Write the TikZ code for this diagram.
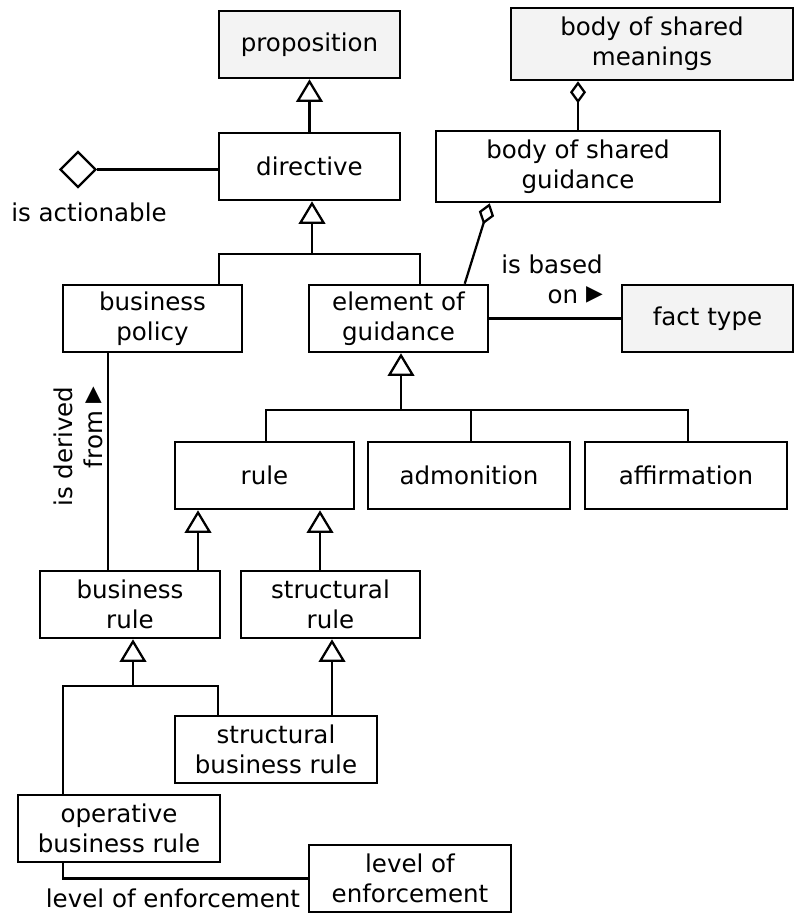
\documentclass[tikz,border=0pt]{standalone}
\usepackage{fontspec}
\setmainfont{DejaVu Sans}
\usetikzlibrary{arrows.meta,shapes.geometric,calc}
\definecolor{shade}{RGB}{243,243,243}
\newcommand{\rdir}{\smash{\fontsize{25}{25}\selectfont ▸}}

\begin{document}
\begin{tikzpicture}[x=0.75pt,y=-0.75pt,
  every node/.style={font=\fontsize{18.4}{22.5}\selectfont, inner sep=0pt},
  cls/.style 2 args={draw, line width=1.9pt, align=center, fill=white,
    minimum width=#1*0.75pt, minimum height=#2*0.75pt},
  ext/.style={fill=shade},
  link/.style={line width=1.7pt},
  gen/.style={link, -{Triangle[open, width=20pt, length=17pt]}},
  agg/.style={link, -{Diamond[open, width=12pt, length=16.5pt]}},
]
\fill[white] (0,0) rectangle (794,913);
\useasboundingbox (0,0) rectangle (794,913);

% classes
\node[cls={181}{67}, ext] (prop) at (309.5,44.5) {proposition};
\node[cls={181}{67}] (dir) at (309.5,166.5) {directive};
\node[cls={282}{72}, ext] (bsm) at (652,44) {body of shared\\meanings};
\node[cls={284}{71}] (bsg) at (578,166.5) {body of shared\\guidance};
\node[cls={179}{67}] (bp) at (152.5,318.5) {business\\policy};
\node[cls={179}{67}] (eog) at (398.5,318.5) {element of\\guidance};
\node[cls={171}{67}, ext] (ft) at (707.5,318.5) {fact type};
\node[cls={179}{67}] (rule) at (264.5,475.5) {rule};
\node[cls={202}{67}] (adm) at (469,475.5) {admonition};
\node[cls={202}{67}] (aff) at (686,475.5) {affirmation};
\node[cls={180}{67}] (br) at (130,604.5) {business\\rule};
\node[cls={179}{67}] (sr) at (330.5,604.5) {structural\\rule};
\node[cls={202}{67}] (sbr) at (276,749.5) {structural\\business rule};
\node[cls={202}{67}] (obr) at (119,828.5) {operative\\business rule};
\node[cls={202}{67}] (loe) at (410,878.5) {level of\\enforcement};

% unary fact on directive
\node[diamond, draw, line width=1.7pt, fill=white, inner sep=0pt,
  minimum width=36*0.75pt, minimum height=36*0.75pt] (act) at (78,169.5) {};
\node (actlbl) at (89,212) {is actionable};
\draw[link] (act.east) -- (act.east -| dir.west);

% directive is a proposition
\draw[gen] (dir.north) -- (prop.south);

% directive specialisations
\coordinate (d0) at (312,254);
\coordinate (d1) at (219,254);
\coordinate (d2) at (420,254);
\draw[gen] (d0) -- (d0 |- dir.south);
\draw[link] (bp.north -| d1) -- (d1) -- (d2) -- (eog.north -| d2);

% aggregations
\draw[agg] (bsg.north) -- (bsg.north |- bsm.south);
\draw[agg] ($(eog.north west)+(157,0)$) -- ($(bsg.south west)+(55,0)$);

% is based on
\draw[link] (eog.east) -- (ft.west);
\node[align=right] (basedlbl) at (552,279) {is based\\on \rdir};

% element of guidance specialisations
\coordinate (e0) at (401,410);
\coordinate (e1) at (266,410);
\coordinate (e2) at (471,410);
\coordinate (e3) at (688,410);
\draw[gen] (e0) -- (e0 |- eog.south);
\draw[link] (rule.north -| e1) -- (e1) -- (e3) -- (aff.north -| e3);
\draw[link] (e2) -- (adm.north -| e2);

% rule specialisations
\coordinate (xa) at (198,540);
\coordinate (xb) at (320,540);
\draw[gen] (xa |- br.north) -- (xa |- rule.south);
\draw[gen] (xb |- sr.north) -- (xb |- rule.south);

% business rule specialisations
\coordinate (m0) at (133,686);
\coordinate (m1) at (63,686);
\coordinate (m2) at (218,686);
\draw[gen] (m0) -- (m0 |- br.south);
\draw[link] (obr.north -| m1) -- (m1) -- (m2) -- (sbr.north -| m2);
\coordinate (xc) at (332,690);
\draw[gen] (xc |- sbr.north) -- (xc |- sr.south);

% is derived from
\coordinate (xd) at (108,450);
\draw[link] (xd |- bp.south) -- (xd |- br.north);
\node[rotate=90, align=right] (derlbl) at (78.5,446.5) {is derived\\from \rdir};

% level of enforcement
\draw[link] (obr.south -| m1) |- (loe.west);
\node (loelbl) at (173,898) {level of enforcement};
\end{tikzpicture}
\end{document}
